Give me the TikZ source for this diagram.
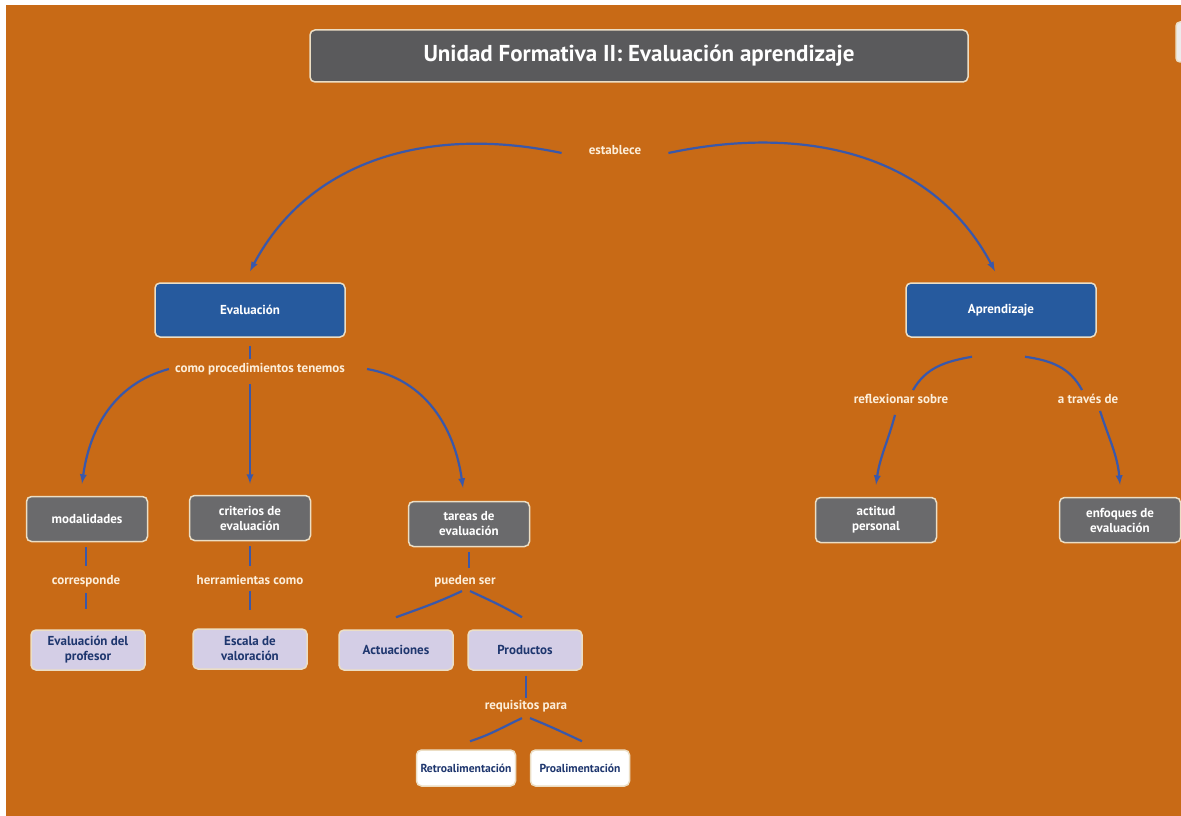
\documentclass[tikz,border=0pt]{standalone}
\usepackage{fontspec}
\setmainfont{PT Sans}
\usetikzlibrary{arrows}
\definecolor{fondo}{RGB}{200,106,22}
\definecolor{borde}{RGB}{236,222,196}
\definecolor{titulo}{RGB}{90,90,92}
\definecolor{azulc}{RGB}{38,90,158}
\definecolor{grisc}{RGB}{106,106,108}
\definecolor{lilac}{RGB}{212,206,230}
\definecolor{tinta}{RGB}{30,54,110}
\definecolor{lineac}{RGB}{58,88,170}
\definecolor{crema}{RGB}{252,238,218}
\begin{document}
\begin{tikzpicture}[x=1pt,y=1pt,>=latex,
  caja/.style={draw=borde,line width=1.5pt,rounded corners=5pt,align=center,text=white,
    font=\bfseries\fontsize{13}{15}\selectfont},
  azul/.style={caja,fill=azulc,minimum width=190pt,minimum height=54pt},
  gris/.style={caja,fill=grisc,minimum width=121pt,minimum height=45pt},
  lila/.style={caja,fill=lilac,text=tinta,minimum width=114pt,minimum height=40pt},
  blanca/.style={caja,fill=white,text=tinta,minimum width=99pt,minimum height=36pt,inner sep=1pt,
    font=\bfseries\fontsize{11.6}{13}\selectfont},
  enlace/.style={text=crema,inner sep=2pt,font=\bfseries\fontsize{13}{15}\selectfont},
  flecha/.style={draw=lineac,line width=2.2pt}]
 \useasboundingbox (0,0) rectangle (1181,-816);
 \fill[white] (0,0) rectangle (1181,-816);
 \fill[fondo] (6,-5) rectangle (1181,-816);
 \begin{scope}
 \clip (0,0) rectangle (1181,-816);
 \draw[fill=white!85!gray,draw=borde,line width=1.5pt,rounded corners=4pt] (1176,-22) rectangle (1210,-62);
 \end{scope}

 \node[caja,fill=titulo,minimum width=658pt,minimum height=52pt,
   font=\bfseries\fontsize{23}{25}\selectfont] (tit) at (639,-56) {Unidad Formativa II: Evaluación aprendizaje};
 \node[enlace] (est) at (615,-150) {establece};
 \node[azul] (eva) at (250,-310) {Evaluación};
 \node[azul] (apr) at (1001,-310) {Aprendizaje};
 \node[enlace] (proc) at (260,-369) {como procedimientos tenemos};
 \node[gris] (mod) at (87,-519) {modalidades};
 \node[gris] (cri) at (250,-518) {criterios de\\evaluación};
 \node[gris] (tar) at (469,-524) {tareas de\\evaluación};
 \node[enlace] (cor) at (86,-581) {corresponde};
 \node[enlace] (her) at (250,-580) {herramientas como};
 \node[enlace] (pue) at (465,-581) {pueden ser};
 \node[lila] (prof) at (88,-650) {Evaluación del\\profesor};
 \node[lila] (esc) at (250,-649) {Escala de\\valoración};
 \node[lila] (actu) at (396,-650) {Actuaciones};
 \node[lila] (prod) at (525,-650) {Productos};
 \node[enlace] (req) at (526,-706) {requisitos para};
 \node[blanca] (retro) at (466,-768) {Retroalimentación};
 \node[blanca] (proa) at (580,-768) {Proalimentación};
 \node[enlace] (refl) at (901,-399) {reflexionar sobre};
 \node[enlace] (tra) at (1088,-399) {a través de};
 \node[gris] (acti) at (876,-520) {actitud\\personal};
 \node[gris] (enf) at (1120,-520) {enfoques de\\evaluación};

 \draw[flecha,->] ([shift={(-25pt,-3pt)}]est.west) to[out=168,in=62] ([yshift=11pt]eva.north);
 \draw[flecha,->] ([shift={(25pt,-3pt)}]est.east) to[out=12,in=118] ([shift={(-6pt,11pt)}]apr.north);
 \draw[flecha,shorten <=8pt,shorten >=2pt] (eva.south) -- (proc.north -| eva.south);
 \draw[flecha,->] ([xshift=-4pt]proc.west) to[out=195,in=82] ([shift={(-5pt,12pt)}]mod.north);
 \draw[flecha,->,shorten <=7pt] (proc.south -| cri.north) -- ([yshift=11pt]cri.north);
 \draw[flecha,->] ([xshift=20pt]proc.east) to[out=-10,in=98] ([shift={(-6pt,13pt)}]tar.north);
 \draw[flecha,shorten <=5pt,shorten >=7pt] (mod.south -| cor.north) -- (cor.north);
 \draw[flecha,shorten <=4pt,shorten >=20pt] (cor.south) -- (prof.north -| cor.south);
 \draw[flecha,shorten <=5pt,shorten >=7pt] (cri.south) -- (her.north);
 \draw[flecha,shorten <=4pt,shorten >=18pt] (her.south) -- (esc.north -| her.south);
 \draw[flecha,shorten <=5pt,shorten >=5pt] (tar.south) -- (pue.north -| tar.south);
 \draw[flecha] ([xshift=-3pt,yshift=-2pt]pue.south) to[out=205,in=20] ([yshift=12pt]actu.north);
 \draw[flecha] ([xshift=5pt,yshift=-2pt]pue.south) to[out=-25,in=150] ([shift={(-3pt,12pt)}]prod.north);
 \draw[flecha,shorten <=5pt] (prod.south -| req.north) -- (req.north);
 \draw[flecha] ([xshift=-4pt,yshift=-4pt]req.south) to[out=205,in=18] ([shift={(4pt,8pt)}]retro.north);
 \draw[flecha] ([xshift=4pt,yshift=-4pt]req.south) to[out=-22,in=155] ([shift={(2pt,8pt)}]proa.north);
 \draw[flecha] ([shift={(-29pt,-19pt)}]apr.south) to[out=190,in=60] ([xshift=12pt,yshift=2pt]refl.north);
 \draw[flecha,->] ([xshift=-6pt,yshift=-9pt]refl.south) to[out=-105,in=82] ([yshift=12pt]acti.north);
 \draw[flecha] ([shift={(24pt,-19pt)}]apr.south) to[out=-8,in=118] ([xshift=-6pt,yshift=2pt]tra.north);
 \draw[flecha,->] ([xshift=12pt,yshift=-5pt]tra.south) to[out=-72,in=95] ([yshift=12pt]enf.north);
\end{tikzpicture}
\end{document}
